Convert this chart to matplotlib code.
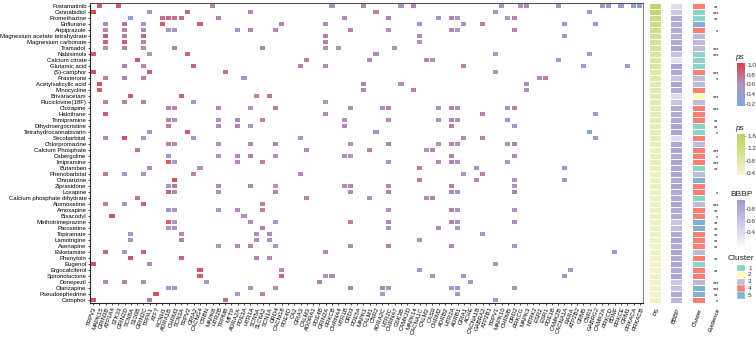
import numpy as np
import matplotlib.pyplot as plt
from matplotlib.colors import LinearSegmentedColormap, ListedColormap, Normalize
from matplotlib.cm import ScalarMappable
from matplotlib.patches import Rectangle

plt.rcParams['font.family'] = ['Liberation Sans', 'DejaVu Sans']

# ---- data ----
drugs = ["Fostamatinib", "Cannabidiol", "Promethazine", "Enflurane", "Aripiprazole",
         "Magnesium acetate tetrahydrate", "Magnesium carbonate", "Tramadol", "Nabiximols",
         "Calcium citrate", "Glutamic acid", "(S)-camphor", "Prasterone", "Acetylsalicylic acid",
         "Minocycline", "Brivaracetam", "Fluciclovine(18F)", "Clozapine", "Halothane",
         "Trimipramine", "Dihydroergocristine", "Tetrahydrocannabivarin", "Secobarbital",
         "Chlorpromazine", "Calcium Phosphate", "Cabergoline", "Imipramine", "Butamben",
         "Phenobarbital", "Cinnarizine", "Ziprasidone", "Loxapine", "Calcium phosphate dihydrate",
         "Atomoxetine", "Amoxapine", "Bisacodyl", "Methotrimeprazine", "Paroxetine", "Topiramate",
         "Lamotrigine", "Asenapine", "Esketamine", "Phenytoin", "Eugenol", "Ergocalciferol",
         "Spironolactone", "Donepezil", "Olanzapine", "Pseudoephedrine", "Camphor"]

genes = ["TRPV3", "MAPK15", "GRIN3B", "ATP1A4", "STK33", "GRIN2D", "SCN8A", "S100B", "GRIN2C",
         "TRPA1", "ATF7", "KCNH1", "ADRA1B", "CHRM3", "SCN3A", "TRPV2", "GRIA2", "CACNG4", "CRBN",
         "MAPK8", "HTR2B", "TRPM8", "MTTP", "ADRA2A", "PDE3A", "HTR1A", "SCN5A", "SLC6A2", "SCN1A",
         "DRD4", "CACNG8", "PDE4D", "CA2", "GRIA3", "CALM3", "ADORA1", "PDE4B", "GRIN2A", "PRKCB",
         "CHRNA4", "HTR1B", "DRD3", "PDE5A", "MAPK1", "CALM1", "CNR2", "ADRA2C", "HTR2C", "CHRNA7",
         "GSK3B", "CAMK2D", "MAPK14", "CACNA1C", "CALM2", "CASR", "CHRM2", "ADRB2", "HTR2A",
         "ADRB1", "GRIA1", "ACHE", "CACNA1B", "GABRA2", "ATP2B1", "TRPV1", "MAPK10", "CHRM5",
         "DRD2", "PRKCG", "MAPK3", "NTRK2", "ESR2", "ESR1", "PDE1B", "CAMK2B", "CACNA1A", "RARA",
         "ATP2B2", "GRM5", "CNR1", "GABRG2", "CAMK2A", "PRKCD", "BDNF", "PRKCE", "GRM1",
         "PRKACA", "PRKACB"]

# (gene index, ps) per drug
hits = [
    [(1, .9), (4, .9), (19, .7), (38, .6), (43, .65), (49, .6), (51, .7), (65, .55), (68, .6),
     (69, .65), (74, .55), (81, .5), (82, .5), (84, .5), (86, .4), (87, .28)],
    [(0, 1.0), (9, .6), (15, .85), (25, .65), (45, .7), (64, .6), (79, .5)],
    [(6, .3), (11, .8), (12, .8), (13, .8), (14, .8), (20, .7), (40, .65), (47, .7), (55, .6),
     (57, .7), (58, .6), (66, .55), (67, .7)],
    [(2, .65), (5, .75), (8, .6), (11, .9), (17, .9), (30, .7), (37, .65), (52, .6), (59, .6),
     (62, .7), (75, .55), (80, .6)],
    [(2, .7), (5, .7), (8, .65), (12, .6), (13, .55), (23, .6), (25, .7), (29, .65), (41, .7),
     (47, .6), (57, .65), (58, .5), (67, .7)],
    [(2, .9), (5, .7), (8, .85), (37, .7), (52, .65), (75, .6)],
    [(2, .85), (5, .9), (8, .7), (37, .7), (52, .6)],
    [(2, .6), (5, .7), (8, .65), (13, .7), (27, .7), (37, .6), (39, .55), (48, .6)],
    [(0, .9), (9, .5), (15, .85), (45, .65), (64, .6), (79, .5)],
    [(7, .9), (34, .7), (44, .65), (53, .7), (54, .6), (74, .55)],
    [(5, .7), (8, .65), (16, .85), (33, .7), (37, .65), (59, .7), (78, .6), (85, .45)],
    [(0, .95), (9, .9), (21, .75), (64, .6)],
    [(2, .7), (5, .7), (8, .7), (24, .6), (71, .65), (72, .7)],
    [(1, .95), (43, .7), (49, .6), (69, .65)],
    [(1, .9), (43, .65), (51, .7), (69, .6)],
    [(6, .9), (14, .85), (26, .7), (28, .75)],
    [(2, .7), (5, .7), (8, .7), (16, .35), (37, .6)],
    [(12, .7), (13, .7), (20, .65), (25, .6), (29, .7), (41, .65), (46, .6), (47, .7), (55, .6),
     (57, .7), (58, .6), (66, .55), (67, .7)],
    [(2, .9), (37, .65), (62, .7), (80, .6)],
    [(12, .7), (13, .55), (20, .6), (23, .65), (27, .7), (40, .6), (47, .65), (55, .6), (57, .7),
     (58, .55), (66, .6)],
    [(12, .7), (20, .65), (23, .7), (25, .6), (40, .65), (57, .7), (67, .6)],
    [(9, .55), (15, .9), (45, .6), (79, .3)],
    [(2, .65), (5, .95), (8, .6), (16, .5), (33, .6), (59, .65), (62, .7), (80, .6)],
    [(12, .7), (13, .65), (20, .6), (25, .65), (29, .7), (41, .6), (47, .7), (55, .55), (57, .7),
     (58, .6), (66, .55), (67, .7)],
    [(7, .75), (34, .65), (44, .7), (53, .6), (54, .7)],
    [(12, .45), (20, .6), (23, .65), (25, .7), (29, .6), (40, .65), (41, .6), (57, .7), (67, .65)],
    [(12, .9), (13, .55), (23, .65), (27, .7), (47, .6), (55, .65), (57, .7), (58, .6), (66, .55)],
    [(9, .65), (17, .6), (52, .7), (61, .6), (75, .55)],
    [(2, .75), (5, .6), (8, .6), (16, .7), (33, .65), (59, .6), (62, .7)],
    [(13, .95), (52, .7), (61, .65), (67, .6), (75, .6)],
    [(12, .45), (13, .75), (20, .65), (25, .7), (29, .6), (40, .65), (41, .7), (47, .65),
     (57, .7), (67, .6)],
    [(12, .85), (13, .65), (20, .6), (29, .7), (41, .65), (47, .7), (57, .65), (58, .55), (67, .7)],
    [(7, .75), (34, .7), (44, .6), (53, .65), (54, .7)],
    [(2, .7), (5, .6), (8, .85), (27, .7)],
    [(12, .55), (13, .55), (20, .6), (23, .65), (27, .7), (47, .6), (57, .7), (58, .55), (67, .6)],
    [(3, .95), (24, .65)],
    [(12, .9), (13, .55), (25, .65), (29, .6), (41, .7), (47, .65), (57, .7), (58, .6), (67, .65)],
    [(12, .6), (13, .6), (27, .7), (47, .6), (55, .65), (58, .55)],
    [(6, .4), (14, .7), (26, .6), (28, .65), (62, .6)],
    [(6, .5), (14, .7), (26, .65), (28, .6), (52, .6)],
    [(20, .6), (23, .65), (25, .7), (29, .6), (41, .65), (47, .7), (57, .65), (67, .6)],
    [(2, .85), (5, .6), (8, .85), (37, .65), (83, .45)],
    [(6, .95), (14, .85), (26, .7), (28, .65)],
    [(0, .95), (9, .65), (64, .6)],
    [(17, .9), (30, .65), (52, .6), (76, .6)],
    [(17, .9), (30, .85), (37, .6), (38, .65), (54, .6), (59, .55), (75, .5)],
    [(2, .65), (5, .7), (8, .65), (18, .55), (36, .7), (60, .5)],
    [(12, .55), (13, .55), (25, .35), (29, .65), (41, .7), (46, .7), (47, .5), (57, .5),
     (58, .3), (67, .5)],
    [(10, .95), (23, .55), (27, .7), (46, .5), (58, .45)],
    [(0, .95), (9, .7), (21, .8), (64, .25)],
]

ps_score = [1.5, 1.5, 1.3, 1.2, 1.15, 1.1, 1.05, 1.0, 0.95, 0.95, 0.9, 0.85, 0.85, 0.8, 0.8,
            0.75, 0.75, 0.7, 0.7, 0.7, 0.65, 0.65, 0.65, 0.6, 0.6, 0.6, 0.6, 0.55, 0.55, 0.55,
            0.55, 0.5, 0.5, 0.5, 0.5, 0.5, 0.5, 0.5, 0.5, 0.48, 0.48, 0.48, 0.48, 0.47, 0.47,
            0.47, 0.46, 0.46, 0.45, 0.45]
bbbp = [0.4, 0.55, 0.8, 0.8, 0.8, 0.75, 0.8, 0.85, 0.6, 0.35, 0.85, 0.8, 0.6, 0.85, 0.8, 0.4,
        0.6, 0.8, 0.8, 0.8, 0.85, 0.85, 0.4, 0.8, 0.85, 0.8, 0.85, 0.8, 0.85, 0.8, 0.85, 0.8,
        0.8, 0.85, 0.8, 0.8, 0.6, 0.65, 0.8, 0.85, 0.8, 0.85, 0.8, 0.85, 0.8, 0.85, 0.55, 0.6,
        0.8, 0.7]
cluster = [4, 1, 1, 5, 4, 3, 3, 3, 1, 1, 1, 4, 3, 3, 4, 2, 3, 4, 4, 4, 1, 1, 4, 3, 4, 4, 4, 1,
           3, 5, 4, 4, 1, 3, 4, 4, 5, 5, 4, 4, 4, 3, 4, 1, 4, 4, 3, 5, 5, 4]
evidence = ["**", "***", "**", "", "*", "", "", "***", "***", "", "", "***", "*", "", "",
            "***", "", "***", "", "**", "**", "*", "", "", "***", "*", "***", "**", "", "",
            "", "*", "", "***", "**", "*", "**", "**", "**", "**", "**", "", "**", "", "**",
            "", "***", "***", "**", "*"]

cluster_colors = ["#8DD3C7", "#FFFFB3", "#BEBADA", "#FB8072", "#80B1D3"]

W, H = 756, 337
fig = plt.figure(figsize=(W / 100, H / 100), dpi=100)


def px_axes(x0, y0, x1, y1):
    return fig.add_axes([x0 / W, 1 - y1 / H, (x1 - x0) / W, (y1 - y0) / H])


n_rows, n_cols = len(drugs), len(genes)

ps_cmap = LinearSegmentedColormap.from_list("ps", ["#7CAADB", "#AD93C4", "#D8434A"])
ps_norm = Normalize(0.15, 1.05)
fs = 4.3

# main heatmap
ax = px_axes(90, 3, 643, 303)
gx, gy = 0.09, 0.09
for i, row in enumerate(hits):
    for j, v in row:
        ax.add_patch(Rectangle((j + gx, i + gy), 1 - 2 * gx, 1 - 2 * gy,
                               facecolor=ps_cmap(ps_norm(v)), edgecolor="none"))
ax.set_xlim(0, n_cols)
ax.set_ylim(n_rows, 0)
ax.set_yticks(np.arange(n_rows) + 0.5)
ax.set_yticklabels(drugs, fontsize=fs)
ax.set_xticks(np.arange(n_cols) + 0.5)
ax.set_xticklabels(genes, fontsize=fs, rotation=70, ha="right", va="top",
                   rotation_mode="anchor")
ax.tick_params(length=1.5, width=0.5, pad=1)
for s in ax.spines.values():
    s.set_linewidth(0.8)
    s.set_color("#222222")
ax.spines["right"].set_color("#888888")
ax.spines["top"].set_color("#555555")

# annotation columns
ps_ann_cmap = LinearSegmentedColormap.from_list("psa", ["#F8F4CF", "#BDD15F"])
bbbp_cmap = LinearSegmentedColormap.from_list("bb", ["#FBFBFE", "#9B9ACF"])
clu_cmap = ListedColormap(cluster_colors)

ann = [("PS", (649, 661), np.array(ps_score), ps_ann_cmap, 0.35, 1.65),
       ("BBBP", (670, 682), np.array(bbbp), bbbp_cmap, 0.15, 0.95),
       ("Cluster", (692, 705), np.array(cluster), clu_cmap, 0.5, 5.5)]
for name, (x0, x1), vals, cm, lo, hi in ann:
    a = px_axes(x0, 3, x1, 303)
    a.pcolormesh([0, 1], np.arange(n_rows + 1), vals.reshape(-1, 1), cmap=cm, vmin=lo,
                 vmax=hi, edgecolors="white", linewidth=0.4)
    a.set_xlim(0, 1)
    a.set_ylim(n_rows, 0)
    a.set_yticks([])
    a.set_xticks([0.5])
    a.set_xticklabels([name], fontsize=fs, rotation=70, ha="right", va="top",
                      rotation_mode="anchor")
    a.tick_params(length=0, pad=3)
    for s in a.spines.values():
        s.set_visible(False)

ev = px_axes(709, 3, 724, 303)
ev.set_xlim(0, 1)
ev.set_ylim(n_rows, 0)
for i, e in enumerate(evidence):
    if e:
        ev.text(0.5, i + 1.05, e, fontsize=4, ha="center", va="baseline")
ev.set_yticks([])
ev.set_xticks([0.5])
ev.set_xticklabels(["Evidence"], fontsize=fs, rotation=70, ha="right", va="top",
                   rotation_mode="anchor")
ev.tick_params(length=0, pad=3)
for s in ev.spines.values():
    s.set_visible(False)


# legends
def colorbar(y0, y1, cm, lo, hi, ticks, title, italic, tx):
    cax = px_axes(737, y0, 745, y1)
    cb = fig.colorbar(ScalarMappable(Normalize(lo, hi), cm), cax=cax)
    cb.outline.set_visible(False)
    cb.set_ticks(ticks)
    cb.set_ticklabels([f"{t:.1f}" for t in ticks])
    cax.tick_params(labelsize=4.6, length=1, width=0.4, pad=0.6, colors="#333333")
    fig.text(tx / W, 1 - (y0 - 2) / H, title, fontsize=6, ha="left", va="bottom",
             style="italic" if italic else "normal", color="#222222")


colorbar(63, 106, ps_cmap, 0.15, 1.05, [0.2, 0.4, 0.6, 0.8, 1.0], "ps", True, 735)
colorbar(134, 175, ps_ann_cmap, 0.35, 1.65, [0.4, 0.8, 1.2, 1.6], "ps", True, 735)
colorbar(200, 247, bbbp_cmap, 0.15, 0.95, [0.4, 0.6, 0.8], "BBBP", False, 730)

fig.text(728 / W, 1 - 262 / H, "Cluster", fontsize=6, ha="left", va="bottom",
         color="#222222")
for k, c in enumerate(cluster_colors):
    y = 265 + k * 6.8
    fig.patches.append(Rectangle((737 / W, 1 - (y + 6.3) / H), 8 / W, 6.3 / H,
                                 transform=fig.transFigure, facecolor=c, edgecolor="white",
                                 linewidth=0.3))
    fig.text(748 / W, 1 - (y + 3.2) / H, str(k + 1), fontsize=4.6, ha="left", va="center",
             color="#333333")

fig.savefig("out.png", dpi=100)
